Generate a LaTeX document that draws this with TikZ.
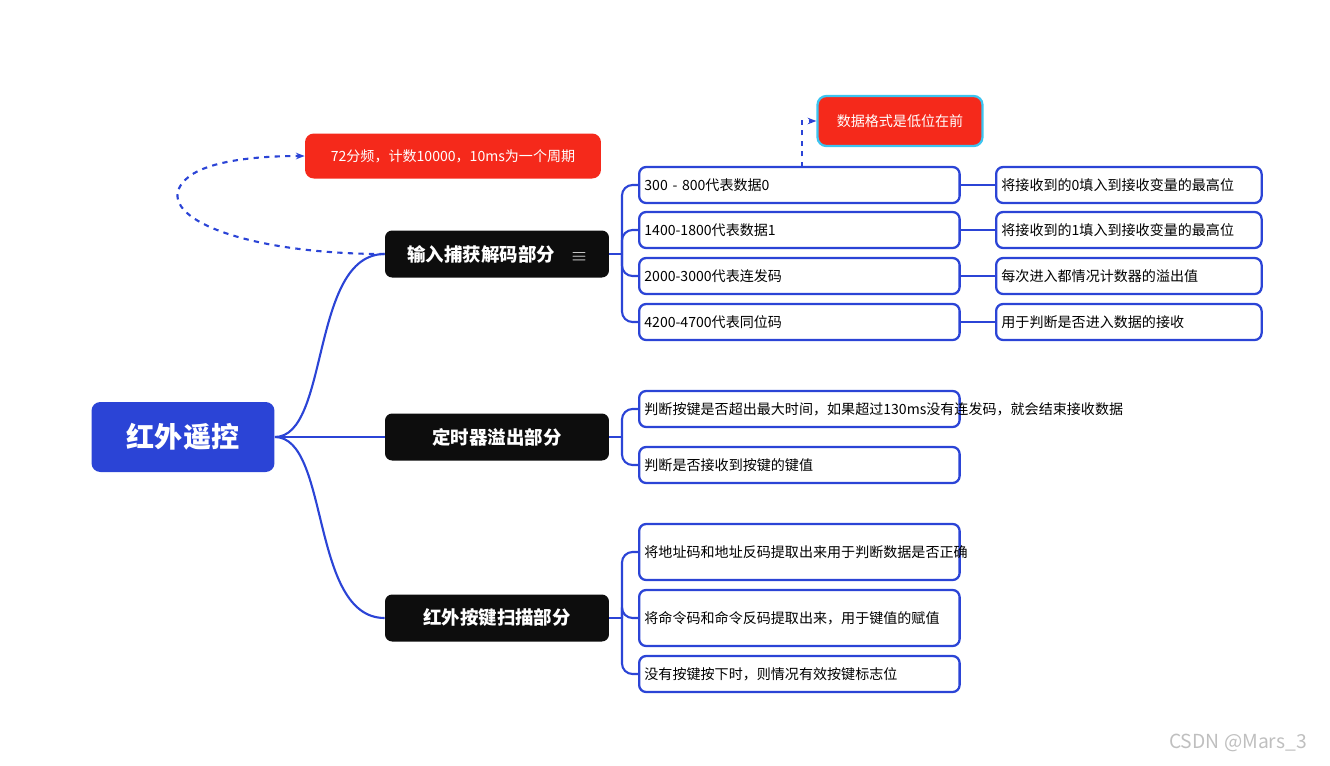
\documentclass[tikz,border=0pt]{standalone}
\usepackage{fontspec}
\setmainfont{Noto Sans CJK SC}
\usetikzlibrary{arrows.meta}
\definecolor{mblue}{HTML}{2B44D6}
\definecolor{mred}{HTML}{F5291B}
\definecolor{mcyan}{HTML}{3CC4F0}
\tikzset{
  leaf/.style={draw=mblue,line width=1.3pt,rounded corners=4pt,fill=white,minimum height=0.72cm,text width=6.2cm,align=left,font=\fontsize{8}{11}\selectfont,inner sep=3pt,anchor=west},
  tip/.style={leaf,text width=5.1cm},
  branch/.style={fill=black!95,rounded corners=4pt,text=white,minimum width=4.48cm,minimum height=0.94cm,font=\fontsize{10.5}{12}\selectfont\bfseries},
  link/.style={draw=mblue,line width=1.2pt},
  redbox/.style={fill=mred,rounded corners=5pt,text=white,font=\fontsize{8}{10}\selectfont}
}
\begin{document}
\begin{tikzpicture}[x=0.02cm,y=-0.02cm]
\useasboundingbox (0,0) rectangle (1330,765);

% root and branches
\node[fill=mblue,rounded corners=5pt,text=white,minimum width=3.66cm,minimum height=1.4cm,font=\fontsize{16}{18}\selectfont\bfseries] (root) at (183,437) {红外遥控};
\node[branch] (cap) at (497,254) {输入捕获解码部分\hspace{0.9em}$\equiv$};
\node[branch] (tim) at (497,437) {定时器溢出部分};
\node[branch] (scan) at (497,618) {红外按键扫描部分};

\draw[link] (root.east) .. controls (330,437) and (310,254) .. (cap.west);
\draw[link] (root.east) -- (tim.west);
\draw[link] (root.east) .. controls (330,437) and (310,618) .. (scan.west);

% notes
\node[redbox,minimum width=5.92cm,minimum height=0.9cm] (freq) at (453,156) {72分频，计数10000，10ms为一个周期};
\draw[link,dashed,-{Stealth[length=5pt]}] (cap.west) .. controls (240,254) and (150,215) .. (185,180) .. controls (205,160) and (260,156) .. (freq.west);

% capture leaves
\node[leaf] (c1) at (638,185) {300 - 800代表数据0};
\node[leaf] (c2) at (638,230) {1400-1800代表数据1};
\node[leaf] (c3) at (638,276) {2000-3000代表连发码};
\node[leaf] (c4) at (638,322) {4200-4700代表同位码};
\node[tip] (d1) at (995,185) {将接收到的0填入到接收变量的最高位};
\node[tip] (d2) at (995,230) {将接收到的1填入到接收变量的最高位};
\node[tip] (d3) at (995,276) {每次进入都情况计数器的溢出值};
\node[tip] (d4) at (995,322) {用于判断是否进入数据的接收};
\node[redbox,draw=mcyan,line width=1.3pt,minimum width=3.3cm,minimum height=1cm] (fmt) at (900,121) {数据格式是低位在前};
\draw[link,dashed,-{Stealth[length=5pt]}] (802,167) -- (802,121) -- (fmt.west);

\draw[link] (cap.east) -- (622,254);
\foreach \n in {c1,c2,c3,c4}
  \draw[link,rounded corners=6pt] (622,254) |- (\n.west);
\foreach \a/\b in {c1/d1,c2/d2,c3/d3,c4/d4}
  \draw[link] (\a.east) -- (\b.west);

% timer leaves
\node[leaf] (t1) at (638,409) {判断按键是否超出最大时间，如果超过130ms没有连发码，就会结束接收数据};
\node[leaf] (t2) at (638,465) {判断是否接收到按键的键值};
\draw[link] (tim.east) -- (622,437);
\foreach \n in {t1,t2}
  \draw[link,rounded corners=6pt] (622,437) |- (\n.west);

% scan leaves
\node[leaf,minimum height=1.12cm] (s1) at (638,552) {将地址码和地址反码提取出来用于判断数据是否正确};
\node[leaf,minimum height=1.12cm] (s2) at (638,618) {将命令码和命令反码提取出来，用于键值的赋值};
\node[leaf] (s3) at (638,674) {没有按键按下时，则情况有效按键标志位};
\draw[link] (scan.east) -- (622,618);
\foreach \n in {s1,s2,s3}
  \draw[link,rounded corners=6pt] (622,618) |- (\n.west);

\node[text=black!25,font=\fontsize{11}{12}\selectfont] (mark) at (1238,743) {CSDN @Mars\_3};
\end{tikzpicture}
\end{document}
